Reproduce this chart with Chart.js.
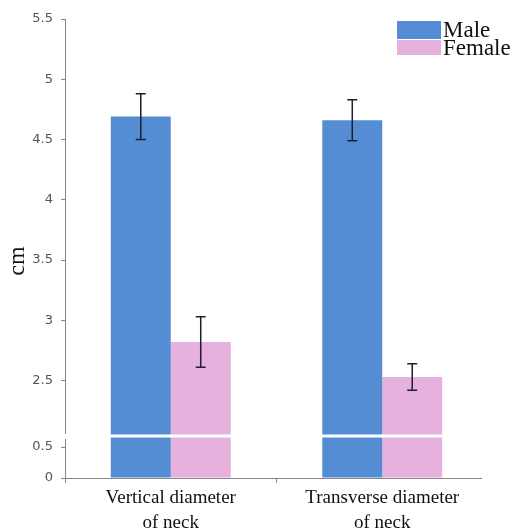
<!DOCTYPE html>
<html>
<head>
<meta charset="utf-8">
<script src="https://cdn.jsdelivr.net/npm/chart.js@4.4.1/dist/chart.umd.min.js"></script>
<style>
  body { margin: 0; background: #fff; }
</style>
</head>
<body>
<canvas id="myChart" width="515" height="531"></canvas>
<script>
    const categories = [["Vertical diameter", "of neck"], ["Transverse diameter", "of neck"]];
    const seriesNames = ["Male", "Female"];
    const maleValues = [4.69, 4.66];
    const femaleValues = [2.82, 2.53];
    const maleErrors = [0.19, 0.17];
    const femaleErrors = [0.21, 0.11];
    const yTicks = [0, 0.5, 2.5, 3, 3.5, 4, 4.5, 5, 5.5];

    const COLORS = {
      blue: 'rgb(84, 141, 212)',
      pink: 'rgb(230, 177, 220)',
      axis: 'rgb(134, 134, 134)',
      err: 'rgb(30, 30, 50)'
    };

// linear scale with a break between lowMax and highMin
    class BrokenScale extends Chart.LinearScale {
      getPixelForValue(value) {
        const o = this.options;
        let dec;
        if (value <= o.lowMax) dec = value / o.lowMax * o.breakFraction;
        else if (value >= o.highMin) dec = o.breakFraction + (value - o.highMin) / (this.max - o.highMin) * (1 - o.breakFraction);
        else dec = o.breakFraction;
        return this.getPixelForDecimal(dec);
      }
      getValueForPixel(pixel) {
        const o = this.options;
        const dec = this.getDecimalForPixel(pixel);
        if (dec <= o.breakFraction) return dec / o.breakFraction * o.lowMax;
        return o.highMin + (dec - o.breakFraction) / (1 - o.breakFraction) * (this.max - o.highMin);
      }
    }
    BrokenScale.id = 'broken';
    BrokenScale.defaults = Chart.LinearScale.defaults;
    Chart.register(BrokenScale);

    const errorBars = {
      id: 'errorBars',
      afterDatasetsDraw(chart) {
        const ctx = chart.ctx;
        const y = chart.scales.y;
        const errs = [maleErrors, femaleErrors];
        ctx.save();
        // white break line across the bars
        const by = y.getPixelForValue(y.options.lowMax);
        chart.data.datasets.forEach((ds, i) => {
          chart.getDatasetMeta(i).data.forEach(bar => {
            ctx.fillStyle = '#fff';
            ctx.fillRect(bar.x - bar.width / 2 - 1, by - 1.5, bar.width + 2, 3);
          });
        });
        ctx.strokeStyle = COLORS.err;
        ctx.lineWidth = 1.5;
        chart.data.datasets.forEach((ds, i) => {
          chart.getDatasetMeta(i).data.forEach((bar, j) => {
            const v = ds.data[j], e = errs[i][j];
            const top = y.getPixelForValue(v + e), bot = y.getPixelForValue(v - e);
            ctx.beginPath();
            ctx.moveTo(bar.x, top); ctx.lineTo(bar.x, bot);
            ctx.moveTo(bar.x - 5, top); ctx.lineTo(bar.x + 5, top);
            ctx.moveTo(bar.x - 5, bot); ctx.lineTo(bar.x + 5, bot);
            ctx.stroke();
          });
        });
        ctx.restore();
      },
      afterDraw(chart) {
        const ctx = chart.ctx;
        const y = chart.scales.y;
        const area = chart.chartArea;
        const by = y.getPixelForValue(y.options.lowMax);
        ctx.save();
        ctx.strokeStyle = COLORS.axis;
        ctx.lineWidth = 1;
        ctx.beginPath();
        // y axis line with a gap at the break
        ctx.moveTo(area.left + 0.5, area.top);
        ctx.lineTo(area.left + 0.5, by - 2);
        ctx.moveTo(area.left + 0.5, by + 3);
        ctx.lineTo(area.left + 0.5, area.bottom);
        // x axis line, a bit shorter than the plot area
        ctx.moveTo(area.left, area.bottom + 0.5);
        ctx.lineTo(area.right - 6, area.bottom + 0.5);
        ctx.stroke();
        // axis title
        ctx.fillStyle = '#111';
        ctx.font = '24px "Liberation Serif"';
        ctx.textAlign = 'center';
        ctx.textBaseline = 'middle';
        ctx.translate(18, 261);
        ctx.rotate(-Math.PI / 2);
        ctx.fillText('cm', 0, 0);
        ctx.restore();
        // legend
        ctx.save();
        const boxes = [[21, 18, 37], [40, 15, 55]];
        ctx.font = '23px "Liberation Serif"';
        ctx.textBaseline = 'alphabetic';
        chart.data.datasets.forEach((ds, i) => {
          ctx.fillStyle = ds.backgroundColor;
          ctx.fillRect(397, boxes[i][0], 44, boxes[i][1]);
          ctx.fillStyle = '#111';
          ctx.fillText(ds.label, 443, boxes[i][2]);
        });
        ctx.restore();
      }
    };

    const data = {
      labels: categories,
      datasets: [
        {
          label: seriesNames[0],
          data: maleValues,
          backgroundColor: COLORS.blue
        },
        {
          label: seriesNames[1],
          data: femaleValues,
          backgroundColor: COLORS.pink
        }
      ]
    };

    const config = {
      type: 'bar',
      data: data,
      plugins: [errorBars],
      options: {
        responsive: false,
        animation: false,
        layout: { padding: { top: 19, right: 27, left: 0, bottom: 0 } },
        datasets: {
          bar: { barPercentage: 1, categoryPercentage: 0.567 }
        },
        scales: {
          x: {
            grid: {
              drawOnChartArea: false,
              tickLength: 5,
              color: c => c.tick ? COLORS.axis : 'rgba(0,0,0,0)'
            },
            border: { display: false },
            ticks: {
              maxRotation: 0,
              padding: 3,
              color: '#111',
              font: { family: 'Liberation Serif', size: 19, lineHeight: 1.3 }
            },
            afterFit: s => { s.height = 53; }
          },
          y: {
            type: 'broken',
            min: 0,
            max: 5.5,
            lowMax: 0.68,
            highMin: 2.04,
            breakFraction: 0.0915,
            grid: { drawOnChartArea: false, tickLength: 4, color: COLORS.axis },
            border: { display: false },
            ticks: {
              padding: 8,
              color: '#555',
              font: { family: 'DejaVu Sans', size: 13 },
              callback: v => String(v)
            },
            afterBuildTicks: s => { s.ticks = yTicks.map(v => ({ value: v })); },
            afterFit: s => { s.width = 65; }
          }
        },
        plugins: {
          legend: { display: false },
          tooltip: { enabled: false }
        }
      }
    };

    const myChart = new Chart(
      document.getElementById('myChart'),
        config);
</script>
</body>
</html>
